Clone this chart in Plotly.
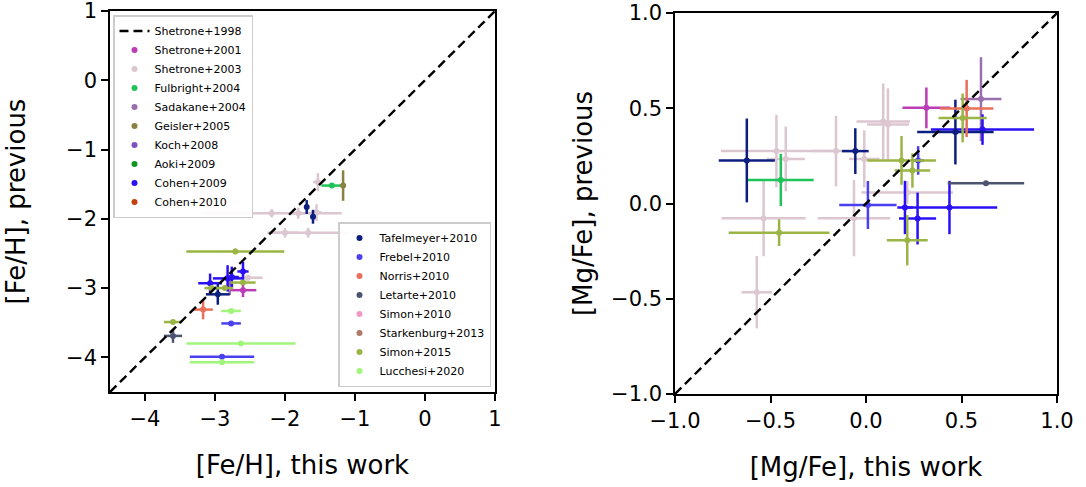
import plotly.graph_objects as go

# ---------------- data ----------------
names = ["Shetrone+2001", "Shetrone+2003", "Fulbright+2004", "Sadakane+2004", "Geisler+2005",
         "Koch+2008", "Aoki+2009", "Cohen+2009", "Cohen+2010",
         "Tafelmeyer+2010", "Frebel+2010", "Norris+2010", "Letarte+2010", "Simon+2010",
         "Starkenburg+2013", "Simon+2015", "Lucchesi+2020"]
colors = ["#bb3cb4", "#dcc6d0", "#1ec35a", "#9a6fb0", "#8a8040",
          "#7f52c2", "#109520", "#2a10f5", "#c04010",
          "#0c1f80", "#4a40f0", "#e8705a", "#4d5470", "#f09ac8",
          "#b07868", "#9ab445", "#a0f57a"]
legend_of = ["legend"] * 9 + ["legend2"] * 8

# [Fe/H] panel: this work (x), previous (y)
fe_x = {
    "Shetrone+2001": [-2.60],
    "Shetrone+2003": [-1.53, -2.19, -1.81, -1.55, -2.00, -1.67, -2.53],
    "Fulbright+2004": [-1.33],
    "Sadakane+2004": [-2.79],
    "Geisler+2005": [-1.17],
    "Cohen+2009": [-3.07, -2.82, -2.76, -2.60],
    "Tafelmeyer+2010": [-1.69, -1.60, -2.96],
    "Frebel+2010": [-2.77, -2.90],
    "Norris+2010": [-3.17],
    "Letarte+2010": [-3.60],
    "Simon+2015": [-3.60, -2.71, -2.60, -2.86, -3.05],
    "Lucchesi+2020": [-2.77, -2.63, -2.90],
}
fe_y = {
    "Shetrone+2001": [-3.03],
    "Shetrone+2003": [-1.47, -1.92, -1.92, -1.91, -2.20, -2.20, -2.85],
    "Fulbright+2004": [-1.52],
    "Sadakane+2004": [-2.97],
    "Geisler+2005": [-1.52],
    "Cohen+2009": [-2.93, -2.86, -2.84, -2.76],
    "Tafelmeyer+2010": [-1.83, -1.97, -3.09],
    "Frebel+2010": [-3.51, -3.99],
    "Norris+2010": [-3.31],
    "Letarte+2010": [-3.69],
    "Simon+2015": [-3.49, -2.47, -2.92, -3.00, -3.00],
    "Lucchesi+2020": [-3.33, -3.80, -4.07],
}
fe_xerr = {
    "Shetrone+2001": [0.19],
    "Shetrone+2003": [0.07, 1.00, 0.10, 0.08, 0.20, 0.58, 0.21],
    "Fulbright+2004": [0.15],
    "Sadakane+2004": [0.05],
    "Geisler+2005": [0.04],
    "Cohen+2009": [0.17, 0.21, 0.10, 0.08],
    "Tafelmeyer+2010": [0.03, 0.03, 0.17],
    "Frebel+2010": [0.14, 0.46],
    "Norris+2010": [0.14],
    "Letarte+2010": [0.13],
    "Simon+2015": [0.13, 0.70, 0.18, 0.12, 0.10],
    "Lucchesi+2020": [0.14, 0.78, 0.46],
}
fe_yerr = {
    "Shetrone+2001": [0.10],
    "Shetrone+2003": [0.13, 0.06, 0.08, 0.12, 0.07, 0.07, 0.04],
    "Fulbright+2004": [0.03],
    "Sadakane+2004": [0.13],
    "Geisler+2005": [0.22],
    "Cohen+2009": [0.14, 0.19, 0.15, 0.14],
    "Tafelmeyer+2010": [0.10, 0.10, 0.15],
    "Frebel+2010": [0.03, 0.03],
    "Norris+2010": [0.14],
    "Letarte+2010": [0.10],
    "Simon+2015": [0.03, 0.04, 0.03, 0.03, 0.03],
    "Lucchesi+2020": [0.03, 0.03, 0.03],
}

# [Mg/Fe] panel: this work (x), previous (y)
mg_x = {
    "Shetrone+2001": [0.316],
    "Shetrone+2003": [-0.469, -0.157, -0.42, 0.09, 0.115, -0.009, 0.216, -0.536, -0.063, -0.572],
    "Fulbright+2004": [-0.446],
    "Sadakane+2004": [0.602],
    "Cohen+2009": [0.61, 0.204, 0.437, 0.27],
    "Tafelmeyer+2010": [-0.624, -0.056, 0.468],
    "Frebel+2010": [0.273, 0.01],
    "Norris+2010": [0.527],
    "Letarte+2010": [0.628],
    "Simon+2015": [0.506, 0.186, 0.243, -0.455, 0.216],
}
mg_y = {
    "Shetrone+2001": [0.502],
    "Shetrone+2003": [0.275, 0.275, 0.234, 0.43, 0.415, 0.234, 0.058, -0.077, -0.077, -0.466],
    "Fulbright+2004": [0.124],
    "Sadakane+2004": [0.548],
    "Cohen+2009": [0.388, -0.021, -0.021, -0.079],
    "Tafelmeyer+2010": [0.226, 0.275, 0.375],
    "Frebel+2010": [0.226, -0.008],
    "Norris+2010": [0.499],
    "Letarte+2010": [0.106],
    "Simon+2015": [0.449, 0.226, 0.173, -0.153, -0.193],
}
mg_xerr = {
    "Shetrone+2001": [0.125],
    "Shetrone+2003": [0.29, 0.12, 0.10, 0.14, 0.11, 0.08, 0.24, 0.22, 0.19, 0.08],
    "Fulbright+2004": [0.172],
    "Sadakane+2004": [0.107],
    "Cohen+2009": [0.27, 0.04, 0.25, 0.097],
    "Tafelmeyer+2010": [0.147, 0.07, 0.20],
    "Frebel+2010": [0.03, 0.15],
    "Norris+2010": [0.14],
    "Letarte+2010": [0.20],
    "Simon+2015": [0.126, 0.18, 0.093, 0.264, 0.107],
}
mg_yerr = {
    "Shetrone+2001": [0.107],
    "Shetrone+2003": [0.19, 0.185, 0.17, 0.20, 0.19, 0.15, 0.06, 0.20, 0.20, 0.19],
    "Fulbright+2004": [0.137],
    "Sadakane+2004": [0.22],
    "Cohen+2009": [0.08, 0.14, 0.14, 0.136],
    "Tafelmeyer+2010": [0.22, 0.12, 0.17],
    "Frebel+2010": [0.075, 0.126],
    "Norris+2010": [0.15],
    "Letarte+2010": [0.01],
    "Simon+2015": [0.128, 0.128, 0.09, 0.07, 0.132],
}

fe_range = [-4.5, 1.0]
mg_range = [-1.0, 1.0]
fe_ticks = [-4, -3, -2, -1, 0, 1]
mg_ticks = [-1.0, -0.5, 0.0, 0.5, 1.0]
fe_ticktext = ["−4", "−3", "−2", "−1", "0", "1"]
mg_ticktext = ["−1.0", "−0.5", "0.0", "0.5", "1.0"]

# ---------------- figure ----------------
FONT = "DejaVu Sans"
fig = go.Figure()

for i, nm in enumerate(names):
    c = colors[i]
    for panel, (dx, dy, ex, ey, xa, ya) in enumerate([
            (fe_x, fe_y, fe_xerr, fe_yerr, "x", "y"),
            (mg_x, mg_y, mg_xerr, mg_yerr, "x2", "y2")]):
        # series without stars in a panel keep a null point so the legend entry exists
        fig.add_trace(go.Scatter(
            x=dx.get(nm, [None]), y=dy.get(nm, [None]),
            mode="markers", name=nm,
            marker=dict(color=c, size=6, line=dict(width=0)),
            error_x=dict(type="data", array=ex.get(nm, [0]), color=c, thickness=2.5, width=0),
            error_y=dict(type="data", array=ey.get(nm, [0]), color=c, thickness=2.5, width=0),
            xaxis=xa, yaxis=ya,
            legend=legend_of[i], legendrank=10 + i,
            showlegend=(panel == 0),
        ))

# one-to-one line (Shetrone+1998 label)
fig.add_trace(go.Scatter(x=fe_range, y=fe_range, mode="lines", name="Shetrone+1998",
                         line=dict(color="black", width=2.4, dash="9px,5px"),
                         xaxis="x", yaxis="y", legend="legend", legendrank=1))
fig.add_trace(go.Scatter(x=mg_range, y=mg_range, mode="lines", name="Shetrone+1998",
                         line=dict(color="black", width=2.4, dash="9px,5px"),
                         xaxis="x2", yaxis="y2", showlegend=False))

W, H = 1086, 487
axis_common = dict(showline=True, mirror=True, linecolor="black", linewidth=1.5,
                   ticks="outside", ticklen=7, tickwidth=1.5, tickcolor="black",
                   showgrid=False, zeroline=False, automargin=False,
                   ticklabeloverflow="allow",
                   tickfont=dict(family=FONT, size=21, color="black"))
TF = dict(family=FONT, size=26, color="black")

fig.update_layout(
    width=W, height=H, autosize=False,
    margin=dict(l=0, r=0, t=0, b=0),
    paper_bgcolor="white", plot_bgcolor="white",
    font=dict(family=FONT, color="black"),
    xaxis=dict(domain=[110 / W, 495 / W], range=fe_range, tickvals=fe_ticks, ticktext=fe_ticktext,
               anchor="y", title=dict(text="[Fe/H], this work", font=TF, standoff=26),
               **axis_common),
    yaxis=dict(domain=[1 - 392 / H, 1 - 11 / H], range=fe_range, tickvals=fe_ticks, ticktext=fe_ticktext,
               anchor="x", title=dict(text="[Fe/H], previous", font=TF, standoff=33),
               **axis_common),
    xaxis2=dict(domain=[675 / W, 1057 / W], range=mg_range, tickvals=mg_ticks, ticktext=mg_ticktext,
                anchor="y2", title=dict(text="[Mg/Fe], this work", font=TF, standoff=26),
                **axis_common),
    yaxis2=dict(domain=[1 - 394 / H, 1 - 13 / H], range=mg_range, tickvals=mg_ticks, ticktext=mg_ticktext,
                anchor="x2", title=dict(text="[Mg/Fe], previous", font=TF, standoff=11),
                **axis_common),
    legend=dict(x=113 / W, y=1 - 15 / H, xanchor="left", yanchor="top",
                bgcolor="rgba(255,255,255,0.9)", bordercolor="#cccccc", borderwidth=1.5,
                font=dict(family=FONT, size=11, color="black"), itemwidth=30,
                tracegroupgap=0),
    legend2=dict(x=338 / W, y=1 - 387 / H, xanchor="left", yanchor="bottom",
                 bgcolor="rgba(255,255,255,0.9)", bordercolor="#cccccc", borderwidth=1.5,
                 font=dict(family=FONT, size=11, color="black"), itemwidth=30,
                 tracegroupgap=0),
    showlegend=True,
)

fig.write_html("out.html")
